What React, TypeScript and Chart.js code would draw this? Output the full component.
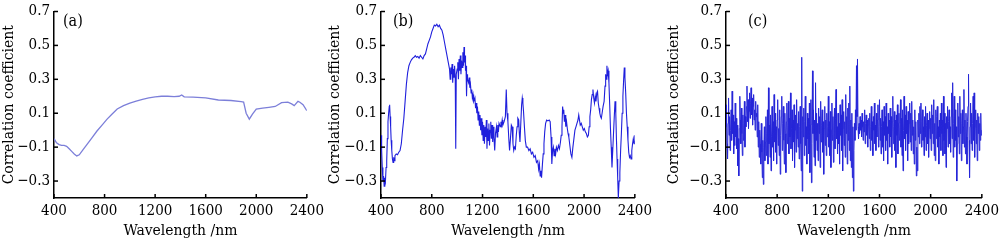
import React, { useEffect, useRef } from 'react';
import { Chart, registerables } from 'chart.js';

Chart.register(...registerables);

// ---------- axis ticks ----------
const xTickValues = [400, 800, 1200, 1600, 2000, 2400];
const xTickLabels = ['400', '800', '1200', '1600', '2000', '2400'];
const yTickValues = [-0.3, -0.1, 0.1, 0.3, 0.5, 0.7];
const yTickLabels = ['\u22120.3', '\u22120.1', '0.1', '0.3', '0.5', '0.7'];
const xTitle = 'Wavelength /nm';
const yTitle = 'Correlation coefficient';
const panelLabels = ['(a)', '(b)', '(c)'];

// ---------- panel (a) ----------
const aWave = [400, 420, 440, 460, 480, 500, 520, 540, 560, 580, 600, 630, 660, 700, 740, 780, 820, 860, 900, 950, 1000, 1050, 1100, 1150, 1200, 1250, 1300, 1350, 1390, 1410, 1430, 1500, 1600, 1700, 1800, 1880, 1900, 1920, 1945, 1970, 2000, 2050, 2100, 2150, 2200, 2250, 2280, 2300, 2330, 2345, 2370, 2400];
const aCorr = [-0.05, -0.075, -0.085, -0.09, -0.09, -0.095, -0.11, -0.125, -0.14, -0.152, -0.145, -0.115, -0.085, -0.045, -0.005, 0.03, 0.065, 0.095, 0.125, 0.145, 0.16, 0.172, 0.182, 0.19, 0.197, 0.2, 0.2, 0.198, 0.2, 0.208, 0.197, 0.195, 0.19, 0.178, 0.175, 0.168, 0.166, 0.1, 0.065, 0.095, 0.125, 0.13, 0.135, 0.14, 0.162, 0.165, 0.155, 0.145, 0.17, 0.165, 0.15, 0.115];

// ---------- panel (b) ----------
const bWave = [400, 405, 410, 415, 420, 425, 430, 435, 440, 445, 450, 455, 460, 465, 468, 472, 476, 480, 485, 490, 495, 500, 505, 510, 520, 530, 540, 550, 560, 570, 580, 590, 600, 610, 620, 630, 640, 650, 660, 670, 680, 690, 700, 710, 720, 730, 740, 750, 760, 770, 780, 790, 800, 810, 820, 830, 840, 850, 860, 870, 880, 890, 900, 910, 920, 930, 940, 945, 950, 955, 960, 965, 970, 975, 980, 985, 989, 993, 1000, 1005, 1010, 1015, 1020, 1025, 1030, 1035, 1040, 1045, 1050, 1054, 1058, 1062, 1066, 1070, 1074, 1078, 1082, 1090, 1095, 1100, 1105, 1110, 1115, 1120, 1125, 1130, 1140, 1145, 1150, 1155, 1160, 1165, 1170, 1175, 1180, 1185, 1190, 1195, 1200, 1205, 1210, 1215, 1220, 1225, 1230, 1235, 1240, 1245, 1250, 1255, 1260, 1265, 1270, 1275, 1280, 1285, 1290, 1296, 1302, 1310, 1315, 1320, 1325, 1330, 1340, 1345, 1350, 1355, 1360, 1370, 1380, 1387, 1393, 1400, 1407, 1413, 1420, 1427, 1433, 1440, 1446, 1452, 1459, 1466, 1472, 1478, 1485, 1490, 1495, 1502, 1508, 1513, 1518, 1523, 1530, 1537, 1545, 1555, 1565, 1575, 1585, 1595, 1605, 1615, 1625, 1635, 1642, 1648, 1654, 1660, 1665, 1672, 1678, 1684, 1690, 1697, 1705, 1715, 1725, 1733, 1740, 1746, 1752, 1758, 1764, 1770, 1776, 1782, 1790, 1798, 1806, 1814, 1820, 1826, 1831, 1836, 1840, 1845, 1850, 1856, 1862, 1868, 1874, 1880, 1888, 1896, 1904, 1912, 1920, 1928, 1936, 1944, 1952, 1958, 1964, 1970, 1978, 1986, 1994, 2002, 2010, 2018, 2026, 2034, 2040, 2046, 2052, 2058, 2064, 2070, 2076, 2082, 2088, 2094, 2100, 2106, 2112, 2118, 2124, 2130, 2136, 2142, 2150, 2158, 2165, 2170, 2175, 2180, 2185, 2190, 2196, 2202, 2208, 2214, 2220, 2226, 2232, 2238, 2244, 2250, 2255, 2260, 2265, 2270, 2276, 2282, 2288, 2294, 2300, 2306, 2312, 2317, 2322, 2328, 2334, 2340, 2346, 2352, 2358, 2364, 2370, 2376, 2382, 2388, 2394, 2400];
const bCorr = [-0.03, -0.12, -0.22, -0.3, -0.27, -0.33, -0.28, -0.3, -0.22, -0.18, -0.05, 0.05, 0.1, 0.14, 0.15, 0.08, 0.02, -0.06, -0.12, -0.17, -0.19, -0.16, -0.18, -0.15, -0.14, -0.145, -0.13, -0.12, -0.08, 0.0, 0.07, 0.17, 0.27, 0.34, 0.38, 0.4, 0.415, 0.425, 0.43, 0.44, 0.43, 0.435, 0.425, 0.44, 0.43, 0.42, 0.44, 0.45, 0.48, 0.51, 0.53, 0.55, 0.58, 0.6, 0.62, 0.615, 0.625, 0.61, 0.62, 0.6, 0.59, 0.56, 0.52, 0.48, 0.44, 0.4, 0.36, 0.3, 0.37, 0.33, 0.39, 0.28, 0.36, 0.31, 0.38, 0.3, -0.11, 0.33, 0.36, 0.4, 0.3, 0.42, 0.35, 0.44, 0.33, 0.41, 0.37, 0.46, 0.38, 0.49, 0.4, 0.44, 0.35, 0.38, 0.2, 0.33, 0.3, 0.28, 0.31, 0.25, 0.27, 0.22, 0.24, 0.19, 0.21, 0.17, 0.19, 0.13, 0.16, 0.1, 0.14, 0.06, 0.11, 0.03, 0.09, 0.0, 0.07, -0.03, 0.05, -0.06, 0.03, -0.08, 0.02, -0.04, 0.06, -0.11, 0.01, -0.06, 0.04, -0.09, 0.0, 0.05, -0.05, 0.03, -0.07, 0.02, -0.04, -0.12, -0.02, 0.02, -0.04, 0.03, -0.01, 0.04, 0.02, 0.05, 0.03, 0.06, 0.03, 0.05, 0.08, 0.24, 0.1, 0.05, -0.05, -0.12, -0.05, 0.03, 0.02, -0.08, -0.12, -0.1, -0.11, -0.03, 0.02, 0.07, 0.06, -0.02, -0.07, 0.05, 0.15, 0.19, 0.16, 0.11, 0.02, -0.06, -0.1, -0.1, -0.12, -0.11, -0.14, -0.13, -0.16, -0.15, -0.19, -0.18, -0.23, -0.2, -0.27, -0.24, -0.28, -0.2, -0.14, -0.08, -0.01, 0.04, 0.06, 0.055, 0.06, 0.05, -0.04, -0.2, -0.12, -0.1, -0.15, -0.11, -0.14, -0.1, -0.12, -0.09, -0.11, -0.07, -0.03, 0.02, 0.14, 0.1, 0.12, 0.05, 0.09, 0.02, 0.05, 0.01, -0.02, -0.04, -0.09, -0.14, -0.16, -0.1, -0.05, 0.0, 0.02, 0.04, 0.06, 0.09, 0.06, 0.03, 0.04, 0.02, 0.0, 0.01, -0.01, -0.02, -0.04, -0.03, 0.02, 0.08, 0.12, 0.18, 0.21, 0.24, 0.19, 0.16, 0.2, 0.17, 0.22, 0.23, 0.16, 0.13, 0.1, 0.08, 0.07, 0.1, 0.14, 0.17, 0.26, 0.33, 0.3, 0.38, 0.33, 0.35, 0.28, 0.15, 0.01, -0.1, -0.22, -0.12, -0.02, 0.08, 0.17, 0.1, -0.05, -0.17, -0.28, -0.4, -0.3, -0.25, -0.12, -0.02, 0.1, 0.2, 0.3, 0.37, 0.31, 0.22, 0.1, 0.02, -0.06, -0.13, -0.16, -0.15, -0.17, -0.12, -0.08, -0.05, -0.08, -0.03];

// ---------- panel (c): sampled every 4 nm from 400 nm ----------
const cWaveStart = 400;
const cWaveStep = 4;
const cCorr = [
  0.02, 0.15, -0.08, -0.17, 0.04, 0.19, -0.03, 0.08, -0.12, 0.0, 0.12, -0.06, 0.23, -0.02, 0.09, -0.14, 0.05, -0.09, 0.16, -0.04,
  0.07, -0.11, 0.03, -0.21, -0.05, -0.27, 0.01, 0.2, 0.06, -0.08, 0.13, -0.02, -0.15, 0.09, -0.06, 0.04, 0.17, -0.1, 0.08, 0.02,
  0.14, 0.26, 0.05, 0.18, 0.01, 0.11, 0.22, 0.07, 0.16, 0.25, 0.09, 0.19, 0.03, 0.14, 0.21, 0.06, 0.12, 0.0, 0.17, 0.08,
  0.1, -0.04, 0.15, -0.1, 0.05, -0.16, 0.0, -0.08, -0.2, 0.04, -0.13, -0.28, -0.06, -0.32, -0.1, 0.02, -0.18, -0.07, 0.08, -0.15,
  -0.02, 0.12, -0.2, 0.25, -0.08, 0.03, -0.16, 0.09, -0.24, -0.04, 0.14, -0.1, 0.05, -0.18, 0.21, -0.07, 0.1, -0.13, 0.02, -0.2,
  0.06, 0.18, -0.09, 0.01, -0.15, 0.12, -0.26, -0.03, 0.08, 0.2, -0.12, 0.04, 0.14, -0.06, -0.2, 0.1, -0.02, -0.25, 0.05, 0.16,
  -0.08, 0.03, 0.17, -0.14, 0.07, -0.04, 0.22, -0.11, 0.01, 0.12, -0.18, 0.06, -0.07, 0.15, -0.22, 0.0, 0.09, -0.13, 0.18, -0.05,
  0.04, -0.1, 0.11, -0.17, 0.02, 0.14, -0.08, -0.24, 0.43, -0.36, 0.08, -0.04, 0.13, -0.15, 0.05, 0.2, -0.09, 0.02, -0.2, 0.1,
  -0.05, 0.07, -0.14, 0.16, -0.25, 0.03, 0.18, -0.31, -0.08, 0.35, -0.02, 0.12, -0.16, 0.06, -0.21, 0.28, -0.06, 0.1, -0.12, 0.04,
  -0.18, 0.13, -0.02, 0.08, -0.22, 0.17, -0.07, 0.03, 0.12, -0.13, 0.05, -0.26, 0.01, 0.14, -0.09, 0.06, -0.15, 0.1, -0.04, 0.02,
  0.2, -0.1, 0.05, -0.15, 0.11, -0.22, 0.0, 0.16, -0.06, 0.08, -0.19, 0.03, 0.13, -0.11, 0.07, 0.24, -0.05, 0.02, -0.14, 0.1,
  -0.08, 0.04, -0.2, 0.15, -0.03, 0.09, -0.12, 0.18, -0.24, 0.01, 0.11, -0.09, 0.05, -0.16, 0.21, -0.02, 0.08, -0.2, 0.13, -0.06,
  0.16, -0.12, 0.26, -0.18, 0.06, -0.22, 0.1, -0.28, 0.02, -0.36, -0.12, 0.04, -0.06, 0.12, 0.0, 0.38, 0.08, 0.42, 0.02, -0.05,
  0.04, -0.02, 0.08, 0.0, 0.06, -0.04, 0.1, 0.02, -0.06, 0.05, -0.01, 0.12, -0.08, 0.04, 0.09, -0.03, 0.06, -0.1, 0.03, 0.07,
  -0.05, 0.1, -0.12, 0.02, 0.14, -0.06, 0.05, -0.15, 0.08, 0.0, 0.16, -0.08, 0.03, -0.12, 0.1, -0.04, 0.06, 0.15, -0.1, 0.02,
  0.18, -0.06, 0.07, -0.14, 0.02, 0.12, -0.1, 0.05, -0.18, 0.14, -0.03, 0.08, -0.12, 0.16, -0.06, 0.02, -0.2, 0.1, -0.02, 0.06,
  -0.1, 0.13, -0.04, 0.08, -0.16, 0.05, 0.2, -0.08, 0.02, 0.11, -0.12, 0.06, -0.22, 0.09, -0.03, 0.15, -0.14, 0.04, 0.1, -0.06,
  0.03, 0.18, -0.1, 0.07, -0.15, 0.12, -0.24, 0.0, 0.2, -0.05, 0.09, -0.12, 0.14, -0.02, 0.06, -0.18, 0.11, -0.08, 0.04, 0.16,
  -0.07, 0.1, -0.12, 0.17, -0.03, 0.06, -0.14, 0.02, -0.2, 0.12, -0.06, 0.05, -0.27, -0.1, -0.24, 0.06, -0.04, 0.1, -0.08, 0.14,
  -0.02, 0.16, -0.1, 0.05, 0.12, -0.06, 0.02, -0.15, 0.08, -0.04, 0.14, -0.12, 0.03, 0.1, -0.08, 0.06, -0.16, 0.01, 0.11, -0.05,
  0.07, -0.12, 0.15, -0.02, 0.09, -0.08, 0.18, -0.15, 0.04, -0.18, 0.12, -0.05, 0.08, 0.14, -0.1, 0.02, -0.2, 0.06, -0.04, 0.1,
  -0.12, 0.16, -0.02, 0.06, -0.15, 0.2, -0.06, 0.1, -0.14, 0.04, -0.22, 0.08, 0.01, 0.14, -0.1, 0.05, 0.12, -0.08, 0.02, -0.13,
  0.08, 0.22, -0.05, 0.28, -0.16, 0.04, 0.2, -0.1, 0.12, -0.06, 0.02, -0.3, -0.08, 0.16, -0.04, 0.08, -0.14, 0.2, -0.02, 0.1,
  -0.18, 0.04, 0.12, -0.08, 0.02, 0.24, -0.1, 0.06, -0.14, 0.1, -0.04, -0.2, 0.05, 0.14, 0.33, -0.06, -0.28, 0.02, 0.16, -0.08,
  0.1, -0.12, 0.04, 0.2, -0.06, 0.22, -0.16, 0.02, 0.12, -0.08, 0.06, -0.18, 0.1, -0.02, 0.08, -0.12, 0.04, -0.06, 0.1, -0.03,
  0.0,
];

const SERIF = '"DejaVu Serif Condensed", "DejaVu Serif", serif';

const panelDecor = {
  id: 'panelDecor',
  afterDraw(chart: any, _args: any, opts: any) {
    const { ctx, chartArea, scales } = chart;
    const xs = scales.x;
    const ys = scales.y;
    ctx.save();
    ctx.strokeStyle = '#000';
    ctx.lineWidth = 1.5;
    for (const t of xs.ticks) {
      const px = xs.getPixelForValue(t.value);
      ctx.beginPath();
      ctx.moveTo(px, chartArea.bottom);
      ctx.lineTo(px, chartArea.bottom - 4);
      ctx.stroke();
    }
    for (const t of ys.ticks) {
      const py = ys.getPixelForValue(t.value);
      ctx.beginPath();
      ctx.moveTo(chartArea.left, py);
      ctx.lineTo(chartArea.left + 4, py);
      ctx.stroke();
    }
    ctx.fillStyle = '#000';
    ctx.font = '16px ' + SERIF;
    ctx.textBaseline = 'middle';
    ctx.textAlign = 'left';
    ctx.fillText(opts.label, chartArea.left + opts.dx, chartArea.top + 10);
    ctx.restore();
  },
};

type PanelProps = {
  left: number;
  width: number;
  yAxisWidth: number;
  padRight: number;
  label: string;
  labelDx: number;
  color: string;
  lineWidth: number;
  points: { x: number; y: number }[];
};

function Panel(p: PanelProps) {
  const ref = useRef<HTMLCanvasElement | null>(null);
  useEffect(() => {
    if (!ref.current) return;
    const chart = new Chart(ref.current, {
      type: 'line',
      data: {
        datasets: [
          {
            data: p.points,
            borderColor: p.color,
            borderWidth: p.lineWidth,
            pointRadius: 0,
            fill: false,
            tension: 0,
          },
        ],
      },
      options: {
        animation: false,
        responsive: false,
        maintainAspectRatio: false,
        parsing: false as any,
        layout: { padding: { top: 8, right: p.padRight, left: 0, bottom: 0 } },
        plugins: {
          legend: { display: false },
          tooltip: { enabled: false },
          panelDecor: { label: p.label, dx: p.labelDx },
        } as any,
        scales: {
          x: {
            type: 'linear',
            min: 400,
            max: 2400,
            afterBuildTicks: (s: any) => {
              s.ticks = xTickValues.map((v) => ({ value: v }));
            },
            afterFit: (s: any) => {
              s.height = 47;
            },
            grid: { display: false, drawTicks: false },
            border: { display: true, color: '#000', width: 1.5 },
            ticks: {
              autoSkip: false,
              maxRotation: 0,
              padding: 6,
              color: '#000',
              font: { family: SERIF, size: 15, lineHeight: 1 },
              callback: (v: any) => xTickLabels[xTickValues.indexOf(Number(v))],
            },
            title: {
              display: true,
              text: xTitle,
              color: '#000',
              font: { family: SERIF, size: 15.5, lineHeight: 1 },
              padding: { top: 0, bottom: 6 },
            },
          },
          y: {
            type: 'linear',
            min: -0.4,
            max: 0.7,
            afterBuildTicks: (s: any) => {
              s.ticks = yTickValues.map((v) => ({ value: v }));
            },
            afterFit: (s: any) => {
              s.width = p.yAxisWidth;
            },
            grid: { display: false, drawTicks: false },
            border: { display: true, color: '#000', width: 1.5 },
            ticks: {
              autoSkip: false,
              padding: 4,
              color: '#000',
              font: { family: SERIF, size: 15, lineHeight: 1 },
              callback: (v: any) => {
                const i = yTickValues.findIndex((t) => Math.abs(t - Number(v)) < 1e-6);
                return yTickLabels[i];
              },
            },
            title: {
              display: true,
              text: yTitle,
              color: '#000',
              font: { family: SERIF, size: 15.5, lineHeight: 1 },
              padding: { top: 1, bottom: 0 },
            },
          },
        },
      },
      plugins: [panelDecor],
    });
    return () => chart.destroy();
  }, []);
  return (
    <canvas
      ref={ref}
      width={p.width}
      height={245}
      style={{ position: 'absolute', left: p.left, top: 0, width: p.width, height: 245 }}
    />
  );
}

export default function App() {
  const aPts = aWave.map((w, i) => ({ x: w, y: aCorr[i] }));
  const bPts = bWave.map((w, i) => ({ x: w, y: bCorr[i] }));
  const cPts = cCorr.map((v, i) => ({ x: cWaveStart + i * cWaveStep, y: v }));
  return (
    <div
      style={{
        position: 'absolute',
        left: 0,
        top: 0,
        width: 1000,
        height: 245,
        overflow: 'hidden',
        background: '#fff',
      }}
    >
      <Panel left={0} width={330} yAxisWidth={54} padRight={19} label={panelLabels[0]} labelDx={9} color="#7c7fd9" lineWidth={1.3} points={aPts} />
      <Panel left={326} width={332} yAxisWidth={55} padRight={19} label={panelLabels[1]} labelDx={12} color="#1f1fdc" lineWidth={1.1} points={bPts} />
      <Panel left={665} width={340} yAxisWidth={61} padRight={20} label={panelLabels[2]} labelDx={22} color="#2626d8" lineWidth={1} points={cPts} />
    </div>
  );
}
